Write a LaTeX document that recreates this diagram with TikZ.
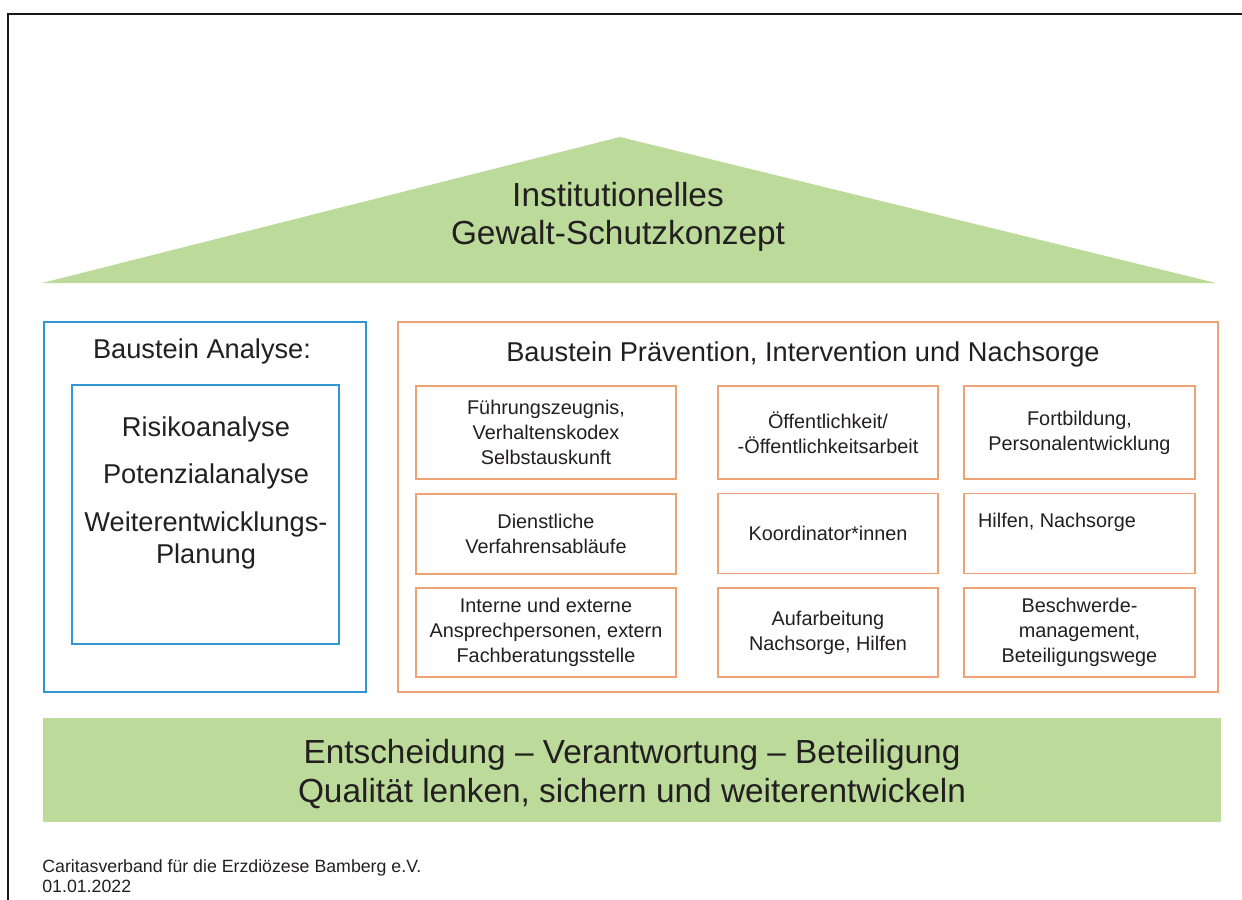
\documentclass[tikz,border=0pt]{standalone}
\usepackage{fontspec}
\setmainfont{Liberation Sans}
\definecolor{roofgreen}{RGB}{188,219,154}
\definecolor{boxorange}{RGB}{238,163,116}
\definecolor{boxblue}{RGB}{45,152,210}
\definecolor{textgray}{RGB}{35,31,32}
\tikzset{
 bluebox/.style={draw=boxblue,line width=1.1pt,inner sep=0pt},
 orangebox/.style={draw=boxorange,line width=1.1pt,inner sep=0pt,align=center,text=textgray,font=\fontsize{11.3}{14.2}\selectfont},
 bigtext/.style={text=textgray,align=center,font=\fontsize{19}{21.6}\selectfont},
 midtext/.style={text=textgray,align=center,font=\fontsize{15.5}{18.2}\selectfont}
}
\begin{document}
\begin{tikzpicture}[x=0.02cm,y=-0.02cm]
 \useasboundingbox (0,0) rectangle (1242,900);
 \draw[line width=1.1pt,black!90](8,900)--(8,14)--(1242,14);
 % roof
 \fill[roofgreen](42,283)--(620,137)--(1216,283)--cycle;
 \node[bigtext] (titel) at (618,217) {Institutionelles\\Gewalt-Schutzkonzept};
 % Baustein Analyse
 \node[bluebox,minimum width=6.44cm,minimum height=7.4cm] (analyse) at (205,507) {};
 \node[midtext] (analysetitel) at (202,351) {Baustein Analyse:};
 \node[bluebox,minimum width=5.34cm,minimum height=5.18cm] (analyseinnen) at (205.5,514.5) {};
 \node[midtext] (risiko) at (206,429) {Risikoanalyse};
 \node[midtext] (potenzial) at (206,476) {Potenzialanalyse};
 \node[midtext] (weiter) at (206,540) {Weiterentwicklungs-\\Planung};
 % Baustein Praevention
 \node[draw=boxorange,line width=1.1pt,minimum width=16.4cm,minimum height=7.4cm] (praevention) at (808,507) {};
 \node[midtext] (praeventiontitel) at (803,354) {Baustein Prävention, Intervention und Nachsorge};
 \node[orangebox,minimum width=5.2cm,minimum height=1.86cm] (fuehrung) at (546,432.5) {Führungszeugnis,\\Verhaltenskodex\\Selbstauskunft};
 \node[orangebox,minimum width=4.4cm,minimum height=1.86cm] (oeffentlich) at (828,432.5) {Öffentlichkeit/\\-Öffentlichkeitsarbeit};
 \node[orangebox,minimum width=4.62cm,minimum height=1.86cm] (fortbildung) at (1079.5,432.5) {Fortbildung,\\Personalentwicklung};
 \node[orangebox,minimum width=5.2cm,minimum height=1.6cm] (dienstlich) at (546,534) {Dienstliche\\Verfahrensabläufe};
 \node[orangebox,minimum width=4.4cm,minimum height=1.6cm] (koordination) at (828,533.5) {Koordinator*innen};
 \node[orangebox,minimum width=4.62cm,minimum height=1.6cm] (hilfen) at (1079.5,533.5) {};
 \node[text=textgray,font=\fontsize{11.3}{14.2}\selectfont] (hilfentext) at (1057,522) {Hilfen, Nachsorge};
 \node[orangebox,minimum width=5.2cm,minimum height=1.78cm] (ansprech) at (546,632.5) {Interne und externe\\Ansprechpersonen, extern\\Fachberatungsstelle};
 \node[orangebox,minimum width=4.4cm,minimum height=1.78cm] (aufarbeitung) at (828,632.5) {Aufarbeitung\\Nachsorge, Hilfen};
 \node[orangebox,minimum width=4.62cm,minimum height=1.78cm] (beschwerde) at (1079.5,632.5) {Beschwerde-\\management,\\Beteiligungswege};
 % Fundament
 \node[fill=roofgreen,minimum width=23.56cm,minimum height=2.08cm,inner sep=0pt] (fundament) at (632,770) {};
 \node[bigtext,font=\fontsize{19}{22.7}\selectfont] (fundamenttext) at (632,774) {Entscheidung -- Verantwortung -- Beteiligung\\Qualität lenken, sichern und weiterentwickeln};
 \node[text=textgray,anchor=west,align=left,inner sep=0pt,font=\fontsize{10.1}{11.4}\selectfont] (quelle) at (42,876) {Caritasverband für die Erzdiözese Bamberg e.V.\\01.01.2022};
\end{tikzpicture}
\end{document}
